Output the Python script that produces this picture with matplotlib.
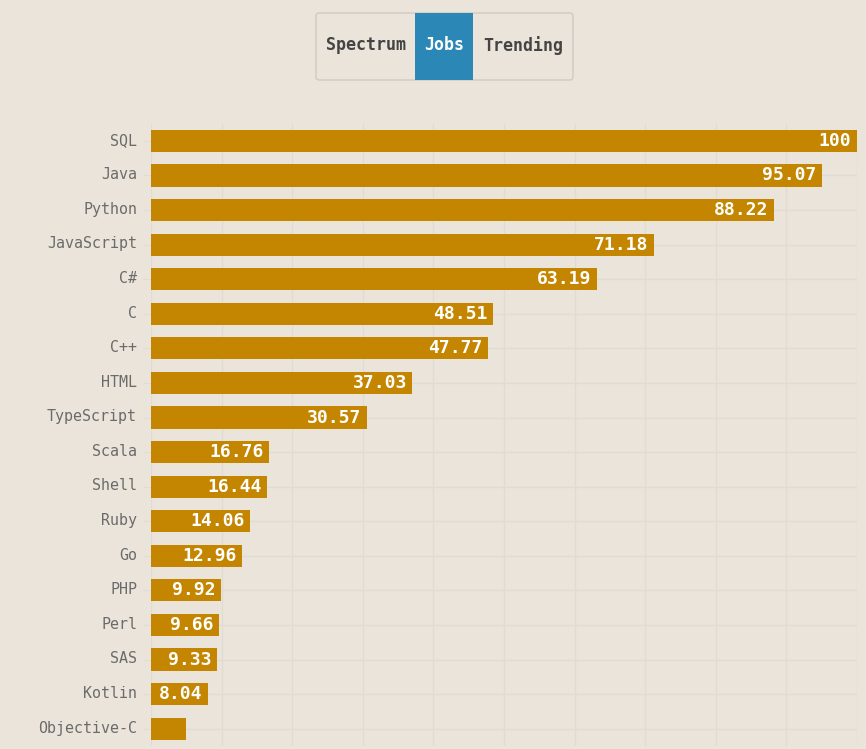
import numpy as np
import matplotlib.pyplot as plt
from matplotlib.patches import FancyBboxPatch, Rectangle

# datos del gráfico (Jobs)
languages = ['SQL', 'Java', 'Python', 'JavaScript', 'C#', 'C', 'C++', 'HTML',
             'TypeScript', 'Scala', 'Shell', 'Ruby', 'Go', 'PHP', 'Perl', 'SAS',
             'Kotlin', 'Objective-C']
scores = [100, 95.07, 88.22, 71.18, 63.19, 48.51, 47.77, 37.03,
          30.57, 16.76, 16.44, 14.06, 12.96, 9.92, 9.66, 9.33,
          8.04, 4.97]
labels = ['100', '95.07', '88.22', '71.18', '63.19', '48.51', '47.77', '37.03',
          '30.57', '16.76', '16.44', '14.06', '12.96', '9.92', '9.66', '9.33',
          '8.04', '']
buttons = ['Spectrum', 'Jobs', 'Trending']

bg = '#ebe4da'
bar_color = '#c48500'
grid_color = '#dedcd5'
mono = 'DejaVu Sans Mono'

fig = plt.figure(figsize=(8.66, 7.49), dpi=100, facecolor=bg)
ax = fig.add_axes([151 / 866, 0.004, (857 - 151) / 866, 0.831], facecolor=bg)

y = np.arange(len(languages))
ax.barh(y, scores, height=0.64, color=bar_color, zorder=2)

for yi, v, lab in zip(y, scores, labels):
    if lab:
        ax.annotate(lab, (v, yi), xytext=(-4, 0), textcoords='offset points',
                    ha='right', va='center', color='white', fontsize=13,
                    fontweight='bold', family=mono, zorder=3)

ax.set_xlim(0, 100)
ax.set_ylim(len(languages) - 0.5, -0.5)
ax.set_xticks(np.arange(0, 101, 10))
ax.set_yticks(y)
ax.set_yticklabels([])
# etiquetas del eje y, un poco más arriba que las de matplotlib
for yi, name in zip(y, languages):
    ax.annotate(name, (0, yi), xytext=(-10, 0.5), textcoords='offset points',
                ha='right', va='center', family=mono, fontsize=10.8,
                color='#6b6b6b', annotation_clip=False)
ax.tick_params(axis='x', length=0, labelbottom=False)
ax.tick_params(axis='y', length=6, color=grid_color)
ax.grid(True, color=grid_color, linewidth=1, zorder=0)
ax.set_axisbelow(True)
for s in ax.spines.values():
    s.set_visible(False)

# botones de arriba
W, H = 866, 749
x0, x1, y0, y1 = 316, 573, 13, 80
fig.patches.append(FancyBboxPatch((x0 / W, 1 - y1 / H), (x1 - x0) / W, (y1 - y0) / H,
                                  boxstyle='round,pad=0,rounding_size=0.004',
                                  transform=fig.transFigure, facecolor=bg,
                                  edgecolor='#cfcac2', linewidth=1))
fig.patches.append(Rectangle((415 / W, 1 - y1 / H), (473 - 415) / W, (y1 - y0) / H,
                             transform=fig.transFigure, facecolor='#2a87b6',
                             edgecolor='none'))
for name, cx in zip(buttons, [366, 444, 523]):
    fig.text(cx / W, 1 - 45.5 / H, name, ha='center', va='center', family=mono,
             fontsize=12, fontweight='bold',
             color='white' if name == 'Jobs' else '#444444')

fig.savefig('out.png', dpi=100, facecolor=bg)
